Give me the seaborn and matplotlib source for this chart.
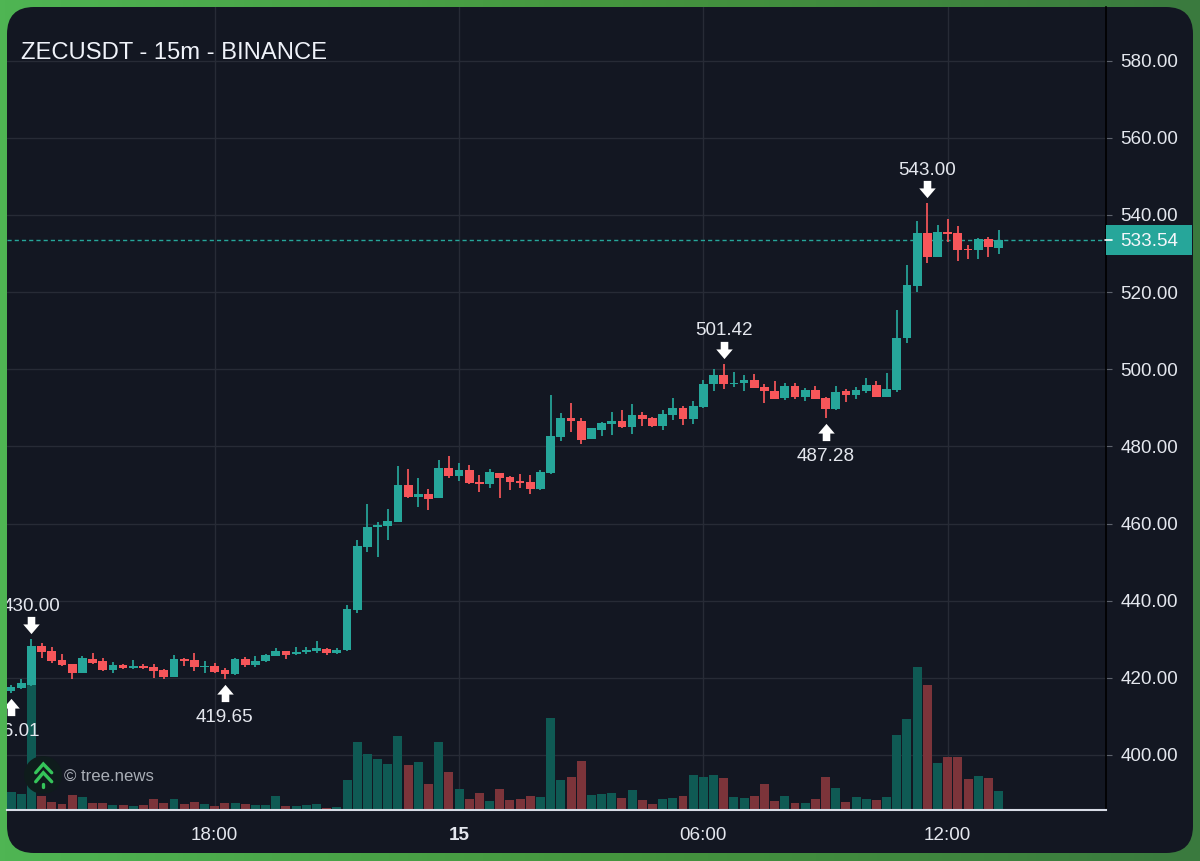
import numpy as np
import pandas as pd
import seaborn as sns
import matplotlib
matplotlib.use("Agg")
import matplotlib.pyplot as plt
from matplotlib.colors import LinearSegmentedColormap
from matplotlib.lines import Line2D
from matplotlib.patches import Circle, FancyBboxPatch, Rectangle
from matplotlib.path import Path
from matplotlib.transforms import blended_transform_factory, offset_copy

# 15-minute ZECUSDT candles
opens = [416.67, 417.45, 418.23, 428.25, 426.96, 424.62, 423.50, 421.34, 424.97, 424.28,
         421.95, 423.41, 422.64, 423.15, 422.72, 421.95, 420.22, 424.97, 424.54, 422.72,
         423.07, 421.95, 421.08, 424.97, 423.24, 424.28, 425.66, 426.96, 426.27, 426.78,
         426.87, 427.39, 426.52, 427.22, 437.48, 453.98, 458.99, 459.43, 460.46, 469.88,
         466.86, 467.55, 466.68, 474.29, 472.30, 473.94, 470.74, 470.23, 473.16, 472.04,
         471.00, 470.74, 469.02, 473.00, 482.41, 487.25, 486.56, 481.98, 484.31, 485.78,
         486.56, 484.92, 488.11, 487.25, 485.35, 488.20, 489.84, 487.19, 490.22, 496.18,
         498.60, 496.27, 496.44, 497.22, 495.32, 494.45, 492.46, 495.57, 492.72, 494.62,
         492.64, 489.61, 494.36, 493.41, 494.45, 496.01, 492.90, 494.62, 508.02, 521.67,
         535.24, 529.19, 535.67, 535.24, 531.26, 530.83, 533.68, 531.35]
highs = [418.14, 419.61, 430.00, 428.94, 428.08, 426.18, 423.59, 425.57, 426.52, 425.14,
         424.11, 423.59, 424.62, 423.50, 423.59, 422.20, 425.83, 425.23, 426.35, 424.28,
         423.93, 422.55, 425.14, 425.31, 425.66, 426.09, 427.65, 427.04, 428.08, 427.91,
         429.55, 427.65, 427.65, 438.95, 455.80, 465.04, 460.46, 463.75, 474.98, 474.11,
         471.70, 468.84, 476.36, 477.40, 475.76, 475.24, 472.56, 474.03, 473.16, 472.39,
         472.90, 472.56, 473.94, 493.21, 488.63, 491.22, 487.25, 484.83, 486.39, 488.80,
         489.32, 491.05, 488.80, 487.68, 489.50, 492.61, 490.53, 491.77, 497.22, 499.98,
         501.42, 499.29, 498.51, 498.77, 496.09, 497.04, 496.35, 496.35, 495.06, 495.66,
         492.90, 495.66, 494.88, 495.49, 497.65, 497.04, 499.12, 515.36, 527.03, 538.35,
         543.00, 537.31, 538.87, 537.05, 532.21, 534.03, 534.37, 536.02]
lows = [416.01, 417.02, 417.88, 425.23, 423.93, 423.15, 419.61, 421.17, 423.59, 421.86,
        421.34, 422.20, 422.20, 422.20, 420.04, 419.79, 420.13, 423.07, 421.77, 421.17,
        421.34, 419.65, 420.82, 422.72, 422.72, 424.19, 425.66, 424.97, 426.00, 426.18,
        426.35, 425.92, 426.18, 427.04, 436.79, 452.60, 451.30, 455.62, 460.29, 466.51,
        464.26, 463.40, 466.51, 471.70, 470.92, 470.31, 468.15, 469.28, 466.68, 468.58,
        469.10, 467.55, 468.58, 472.82, 481.37, 483.62, 480.51, 481.89, 482.76, 482.93,
        484.83, 483.10, 485.18, 485.09, 484.22, 486.73, 485.61, 485.81, 490.05, 494.45,
        494.88, 495.49, 494.45, 495.06, 491.17, 492.29, 492.03, 492.29, 491.77, 492.29,
        487.28, 489.44, 491.60, 492.20, 493.85, 492.81, 492.81, 494.19, 506.72, 520.03,
        527.63, 529.02, 532.99, 528.15, 528.67, 528.50, 529.19, 529.88]
closes = [417.71, 418.66, 428.25, 426.78, 424.28, 423.33, 421.34, 425.23, 423.85, 421.95,
          423.41, 422.55, 423.07, 422.64, 421.69, 420.13, 424.97, 424.36, 422.81, 422.98,
          421.60, 420.91, 424.97, 423.41, 424.28, 425.83, 426.96, 425.83, 426.70, 427.22,
          427.65, 426.44, 427.30, 437.76, 454.07, 459.08, 459.68, 460.64, 469.88, 466.86,
          467.55, 466.42, 474.29, 472.21, 473.86, 470.40, 470.31, 473.25, 471.87, 470.83,
          470.57, 469.02, 473.25, 482.67, 487.25, 486.47, 481.72, 484.66, 486.04, 486.64,
          484.92, 488.11, 487.08, 485.26, 488.37, 489.84, 486.99, 490.48, 496.18, 498.51,
          496.18, 496.53, 497.22, 495.14, 494.28, 492.38, 495.57, 492.72, 494.62, 492.38,
          489.61, 494.11, 493.33, 494.62, 495.92, 492.90, 494.88, 508.19, 521.84, 535.24,
          529.19, 535.67, 535.15, 531.00, 530.83, 533.77, 531.61, 533.54]
volumes = [17.7, 16.0, 128.0, 14.3, 8.0, 6.3, 15.0, 12.7, 7.3, 6.7,
           5.3, 5.0, 4.0, 5.0, 10.7, 7.3, 10.7, 5.7, 7.7, 6.3,
           4.0, 7.3, 7.0, 5.7, 5.3, 5.0, 14.0, 4.0, 4.3, 5.0,
           6.3, 2.0, 3.0, 30.3, 68.3, 55.7, 50.7, 46.3, 73.7, 45.3,
           48.0, 25.7, 68.3, 37.7, 20.7, 11.3, 16.7, 8.7, 20.7, 9.7,
           11.3, 13.7, 13.0, 92.0, 30.3, 33.3, 49.3, 14.7, 15.7, 16.7,
           12.3, 19.7, 9.7, 6.0, 11.3, 12.3, 13.7, 34.7, 33.0, 35.3,
           32.0, 13.3, 12.3, 14.0, 26.0, 9.3, 13.7, 7.3, 7.3, 11.0,
           33.0, 22.0, 8.3, 13.3, 11.0, 10.0, 13.3, 75.3, 91.0, 143.0,
           124.7, 47.3, 53.3, 52.7, 31.0, 34.0, 32.0, 19.3]

time_ticks = [20, 44, 68, 92]
time_labels = ["18:00", "15", "06:00", "12:00"]
price_ticks = list(range(400, 600, 20))
last_price = 533.54
swing_highs = [2, 70, 90]
swing_lows = [0, 21, 80]

UP = "#26a69a"
DOWN = "#f7565a"
UP_VOL = "#0f5a54"
DOWN_VOL = "#7c343a"
CARD = "#131722"
GRID = "#272b36"
TEXT = "#e4e7ee"
LABEL_SIZE = 13.55

W, H = 1200, 861
sns.set_theme(style="dark")
plt.rcParams["font.family"] = ["Liberation Sans", "DejaVu Sans"]
plt.rcParams["axes.grid"] = False

frame = pd.DataFrame({"slot": np.arange(len(opens)), "open": opens, "high": highs,
                      "low": lows, "close": closes, "volume": volumes})
frame["side"] = np.where(frame["close"] >= frame["open"], "up", "down")

fig = plt.figure(figsize=(W / 100, H / 100), dpi=100)

# green frame with rounded dark card
back = fig.add_axes([0, 0, 1, 1], zorder=-1)
back.set_xlim(0, W)
back.set_ylim(H, 0)
back.axis("off")
frame_cmap = LinearSegmentedColormap.from_list("frame", ["#4fb553", "#45963f", "#3a7a3e"])
back.imshow(np.linspace(0, 1, 256)[None, :], cmap=frame_cmap, extent=(0, W, H, 0), aspect="auto")
back.add_patch(FancyBboxPatch((7 + 27, 7 + 27), W - 14 - 54, H - 15 - 54,
                              boxstyle="round,pad=27,rounding_size=27",
                              facecolor=CARD, edgecolor="none"))

# plot region shared by the grid, volume and candle layers
rect = [7 / W, 1 - 810 / H, (1106 - 7) / W, (810 - 7) / H]
xlim = (-0.403, 107.55)
ylim = (385.74, 593.91)

ax_grid = fig.add_axes(rect, facecolor="none", zorder=1)
ax_vol = fig.add_axes(rect, facecolor="none", zorder=2, sharex=ax_grid)
ax = fig.add_axes(rect, facecolor="none", zorder=3, sharex=ax_grid, sharey=ax_grid)

sns.barplot(data=frame, x="slot", y="volume", hue="side", hue_order=["up", "down"],
            palette={"up": UP_VOL, "down": DOWN_VOL}, native_scale=True, dodge=False,
            width=0.88, errorbar=None, saturation=1, linewidth=0, legend=False, ax=ax_vol)
ax_vol.set_ylim(0, 803)
ax_vol.axis("off")

# candle wicks and bodies
colors = np.where(frame["side"] == "up", UP, DOWN)
ax.vlines(frame["slot"], frame["low"], frame["high"], colors=colors, linewidth=1.25, zorder=2)
body_low = frame[["open", "close"]].min(axis=1)
body_high = frame[["open", "close"]].max(axis=1)
ax.bar(frame["slot"], body_high - body_low, bottom=body_low, width=0.86,
       color=colors, linewidth=0, zorder=3)

# last traded price: dashed line, axis tag and tick
trans = blended_transform_factory(ax.transAxes, ax.transData)
ax.axhline(last_price, color=UP, linewidth=1.0, linestyle=(0, (3.0, 2.2)), zorder=1)
ax.add_patch(Rectangle((1.0, last_price - 3.89), 0.0783, 7.78, transform=trans,
                       facecolor=UP, edgecolor="none", clip_on=False, zorder=5))
ax.add_line(Line2D([0.9995, 1.0055], [last_price, last_price], transform=trans, color="white",
                   linewidth=1.2, clip_on=False, zorder=6))
ax.text(1.0391, last_price, f"{last_price:.2f}", transform=trans, color="#f4f6fa",
        fontsize=LABEL_SIZE, ha="center", va="center_baseline", clip_on=False, zorder=6)

# white arrows and price labels on the swing points
down_arrow = Path(np.array([(-0.44, 1), (0.44, 1), (0.44, 0.125), (0.96, 0.125), (0, -1),
                            (-0.96, 0.125), (-0.44, 0.125), (-0.44, 1)]), closed=True)
up_arrow = Path(np.array(down_arrow.vertices) * [1, -1], closed=True)
for i in swing_highs:
    marker_tf = offset_copy(ax.transData, fig=fig, x=0, y=14, units="dots")
    ax.plot(i, highs[i], marker=down_arrow, markersize=12.4, color="white", markeredgewidth=0,
            transform=marker_tf, zorder=7)
    ax.annotate(f"{highs[i]:.2f}", (i, highs[i]), xytext=(0, 35), textcoords="offset pixels",
                color=TEXT, fontsize=LABEL_SIZE, ha="center", va="center_baseline",
                annotation_clip=False, clip_on=True, zorder=7)
for i in swing_lows:
    marker_tf = offset_copy(ax.transData, fig=fig, x=0, y=-13.5, units="dots")
    ax.plot(i, lows[i], marker=up_arrow, markersize=12.4, color="white", markeredgewidth=0,
            transform=marker_tf, zorder=7)
    ax.annotate(f"{lows[i]:.2f}", (i, lows[i]), xytext=(0, -36), textcoords="offset pixels",
                color=TEXT, fontsize=LABEL_SIZE, ha="center", va="center_baseline",
                annotation_clip=False, clip_on=True, zorder=7)

# grid layer
ax_grid.set_xlim(*xlim)
ax_grid.set_ylim(*ylim)
ax_grid.set_xticks(time_ticks)
ax_grid.set_yticks(price_ticks)
ax_grid.grid(True, color=GRID, linewidth=1.0)
ax_grid.tick_params(length=0, labelbottom=False, labelleft=False)
for spine in ax_grid.spines.values():
    spine.set_visible(False)

# axes drawn with the candle layer
ax.set_xticks(time_ticks)
ax.set_xticklabels(time_labels)
ax.yaxis.tick_right()
ax.set_yticks(price_ticks)
ax.set_yticklabels([f"{p:.2f}" for p in price_ticks])
ax.tick_params(axis="x", colors="#d8dce6", labelcolor=TEXT, labelsize=LABEL_SIZE, length=4.5,
               width=1.1, pad=7.6)
ax.tick_params(axis="y", colors="#5f646e", labelcolor=TEXT, labelsize=LABEL_SIZE, length=4.3,
               width=0.8, pad=6.0)
ax.get_xticklabels()[1].set_fontweight("bold")
ax.set_xlabel("")
ax.set_ylabel("")
for name, spine in ax.spines.items():
    spine.set_visible(name in ("bottom", "right"))
ax.spines["bottom"].set_color("#d8dce6")
ax.spines["bottom"].set_linewidth(1.5)
ax.spines["right"].set_color("#000000")
ax.spines["right"].set_linewidth(1.2)

# title and watermark layer, in pixel coordinates
top = fig.add_axes([0, 0, 1, 1], facecolor="none", zorder=5)
top.set_xlim(0, W)
top.set_ylim(H, 0)
top.axis("off")
top.text(21, 59, "ZECUSDT - 15m - BINANCE", color="#f0f3fa", fontsize=17.15, ha="left", va="baseline")
top.add_patch(Circle((43, 775), 19, facecolor="#0f1c1c", edgecolor="none"))
chevron = "#35c45a"
top.plot([35.7, 43.3, 51.7], [772.7, 764, 772.7], color=chevron, lw=2.4, solid_joinstyle="miter")
top.plot([35.7, 43.3, 51.7], [781.7, 772.7, 781.7], color=chevron, lw=2.4, solid_joinstyle="miter")
top.plot([43.3, 43.3], [783.5, 787], color=chevron, lw=2.4)
top.text(64, 776, "© tree.news", color="#a9aeb6", fontsize=12.1, ha="left", va="center_baseline")

fig.savefig("out.png", dpi=100)
